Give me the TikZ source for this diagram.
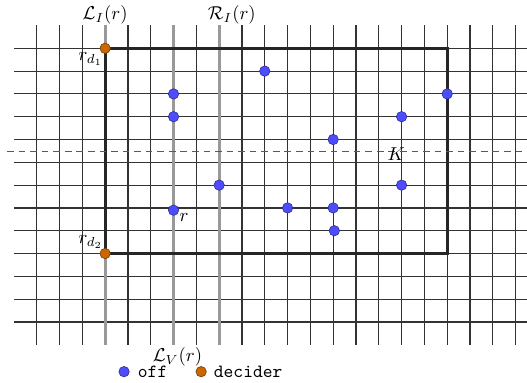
\documentclass[tikz,border=0pt]{standalone}
\usepackage{amsmath,amssymb}
\usetikzlibrary{positioning,calc}
\definecolor{offblue}{RGB}{77,77,255}
\definecolor{deciderorange}{RGB}{204,102,0}

\begin{document}
\begin{tikzpicture}[x=0.43cm, y=0.43cm,
    gridline/.style={black!80, line width=0.62pt},
    sweepline/.style={gray!80, line width=1.6pt},
    boxline/.style={black!85, line width=1.6pt},
    cutline/.style={black!65, line width=0.55pt, dash pattern=on 3.6pt off 2.6pt},
    offpt/.style={circle, fill=offblue, draw=offblue!55!black, line width=0.3pt, inner sep=0pt, minimum size=5.6pt},
    deciderpt/.style={circle, fill=deciderorange, draw=deciderorange!55!black, line width=0.3pt, inner sep=0pt, minimum size=5.6pt}]
    \useasboundingbox (-1.61,2.118) rectangle (21.50,-14.636);

    % Grid
    \foreach \c in {0,...,21}
        \draw[gridline] (\c,1) -- (\c,-13);
    \foreach \r in {0,...,12}
        \draw[gridline] (-1,-\r) -- (21.5,-\r);

    % Lines through the grid
    \coordinate (LItop) at (3,1);
    \coordinate (LVtop) at (6,1);
    \coordinate (RItop) at (8,1);
    \coordinate (LIbot) at (3,-13);
    \coordinate (LVbot) at (6,-13);
    \coordinate (RIbot) at (8,-13);
    \draw[sweepline] (LItop) -- (LIbot);
    \draw[sweepline] (LVtop) -- (LVbot);
    \draw[sweepline] (RItop) -- (RIbot);
    \node[above, inner sep=0.5pt] (LI) at (LItop) {$\mathcal{L}_I(r)$};
    \node[above, inner sep=0.5pt, xshift=6.8pt] (RI) at (RItop) {$\mathcal{R}_I(r)$};
    \node[below, inner sep=1.4pt, xshift=2.1pt] (LV) at (LVbot) {$\mathcal{L}_V(r)$};

    % Box and cut
    \draw[boxline] (3,0) rectangle (18,-9);
    \coordinate (cutL) at (-1.3,-4.53);
    \coordinate (cutR) at (21.5,-4.53);
    \draw[cutline] (cutL) -- (cutR);
    \node (K) at (15.76,-4.645) {$K$};

    % Robots
    \node[offpt] (p1) at (10,-1) {};
    \node[offpt] (p2) at (6,-2) {};
    \node[offpt] (p3) at (6,-3) {};
    \node[offpt] (p4) at (18,-2) {};
    \node[offpt] (p5) at (16,-3) {};
    \node[offpt] (p6) at (13,-4) {};
    \node[offpt] (p7) at (8,-6) {};
    \node[offpt] (p8) at (16,-6) {};
    \node[offpt] (p9) at (11,-7) {};
    \node[offpt] (p10) at (13,-7) {};
    \node[offpt] (p11) at (13.05,-8) {};
    \node[offpt] (r) at (6,-7.1) {};
    \node[anchor=north west, inner sep=0pt, xshift=3pt, yshift=-1.3pt] (rlabel) at (r.center) {$r$};

    \node[deciderpt] (rd1) at (3,0) {};
    \node[deciderpt] (rd2) at (3,-9) {};
    \node[anchor=north east, inner sep=0pt, xshift=-1pt, yshift=-2pt] (rd1label) at (rd1.center) {$r_{d_1}$};
    \node[anchor=south east, inner sep=0pt, xshift=-1pt, yshift=2.7pt] (rd2label) at (rd2.center) {$r_{d_2}$};

    % Legend
    \node[offpt] (legoff) at (3.83,-14.18) {};
    \node[right=4.3pt of legoff, inner sep=0pt, font=\ttfamily] (offtext) {off};
    \node[deciderpt, right=15pt of offtext] (legdecider) {};
    \node[right=3.7pt of legdecider, inner sep=0pt, font=\ttfamily] (decidertext) {decider};
\end{tikzpicture}
\end{document}
